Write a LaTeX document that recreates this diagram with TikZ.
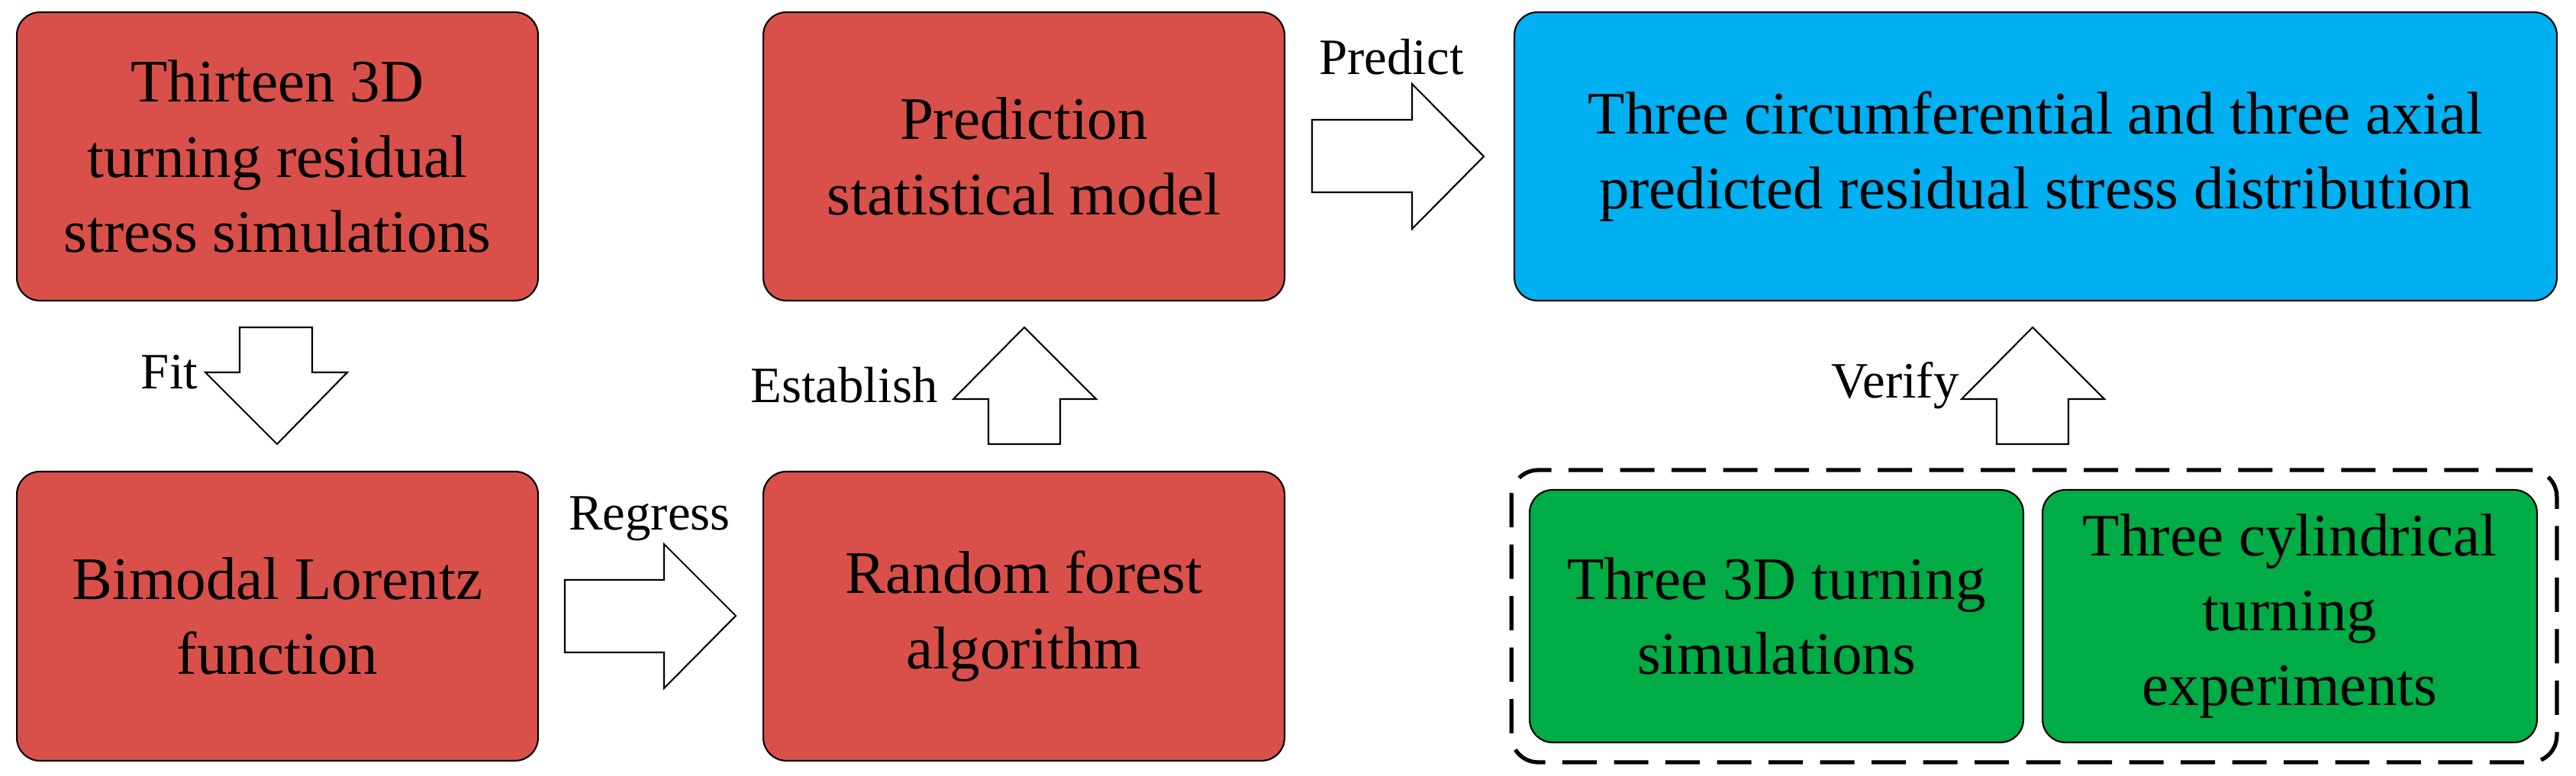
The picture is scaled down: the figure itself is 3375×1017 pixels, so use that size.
\documentclass[tikz,border=0pt]{standalone}
\usepackage{fontspec}
\setmainfont{Liberation Serif}
\begin{document}
\begin{tikzpicture}[x=0.02cm,y=-0.02cm,
  box/.style={draw=black,line width=1.2pt,rounded corners=0.6cm,align=center,inner sep=0pt,
    font=\fontsize{45}{56}\selectfont},
  red/.style={box,fill=boxred},
  blk/.style={draw=black,fill=white,line width=1.2pt,line join=miter},
  lbl/.style={font=\fontsize{38}{44}\selectfont,inner sep=0pt}]
\definecolor{boxred}{HTML}{D9504A}
\definecolor{boxblue}{HTML}{00B0F0}
\definecolor{boxgreen}{HTML}{00AC46}
\useasboundingbox (0,0) rectangle (3375,1017);
\node[red,minimum width=13.66cm,minimum height=7.56cm] (a) at (363.5,205) {Thirteen 3D\\turning residual\\stress simulations};
\node[red,minimum width=13.66cm,minimum height=7.56cm] (b) at (1341.5,205) {Prediction\\statistical model};
\node[red,minimum width=13.66cm,minimum height=7.58cm] (c) at (363.5,807.5) {Bimodal Lorentz\\function};
\node[red,minimum width=13.66cm,minimum height=7.58cm] (d) at (1341.5,807.5) {Random forest\\algorithm};
\node[box,fill=boxblue,minimum width=27.32cm,minimum height=7.56cm] (e) at (2667,205) {Three circumferential and three axial\\predicted residual stress distribution};
\node[draw=black,line width=3pt,dash pattern=on 0.9cm off 0.45cm,rounded corners=0.7cm,minimum width=27.4cm,minimum height=7.66cm] (g) at (2665,807.5) {};
\node[box,fill=boxgreen,minimum width=12.94cm,minimum height=6.62cm] (f1) at (2327.5,807.5) {Three 3D turning\\simulations};
\node[box,fill=boxgreen,minimum width=12.96cm,minimum height=6.62cm] (f2) at (3000,807.5) {Three cylindrical\\turning\\experiments};
% block arrows
\draw[blk] (314,429) -- (409,429) -- (409,488) -- (455,488) -- (363,582) -- (269,488) -- (314,488) -- cycle;
\draw[blk] (1295,582) -- (1389,582) -- (1389,523) -- (1436,523) -- (1342,429) -- (1249,523) -- (1295,523) -- cycle;
\draw[blk] (740,760) -- (870,760) -- (870,713) -- (964,807) -- (870,902) -- (870,855) -- (740,855) -- cycle;
\draw[blk] (1719,157) -- (1850,157) -- (1850,110) -- (1944,205) -- (1850,300) -- (1850,252) -- (1719,252) -- cycle;
\draw[blk] (2616,582) -- (2710,582) -- (2710,523) -- (2757,523) -- (2663,429) -- (2570,523) -- (2616,523) -- cycle;
\node[lbl] (l1) at (222,488) {Fit};
\node[lbl] (l2) at (1106,505) {Establish};
\node[lbl] (l3) at (851,680) {Regress};
\node[lbl] (l4) at (1823,75) {Predict};
\node[lbl] (l5) at (2483,505) {Verify};
\end{tikzpicture}
\end{document}
